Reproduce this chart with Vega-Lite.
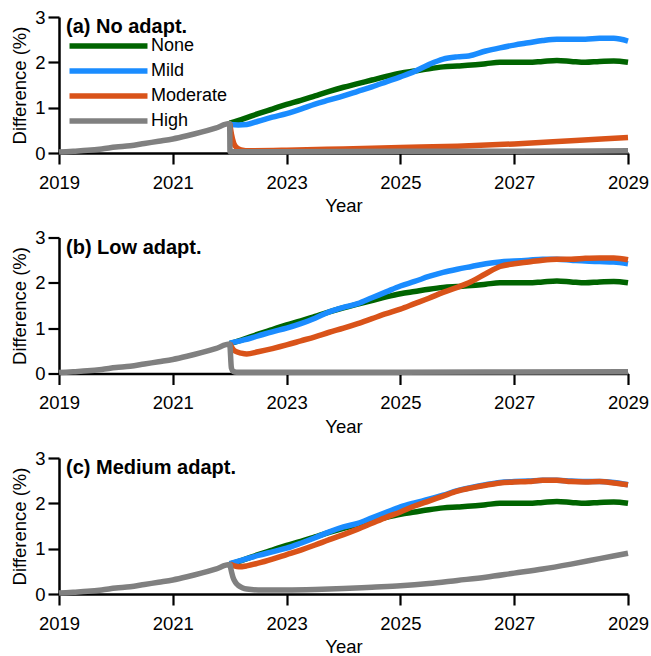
{
  "$schema": "https://vega.github.io/schema/vega-lite/v6.json",
  "background": "white",
  "padding": {"left": 10, "top": 8, "right": 1, "bottom": 0},
  "bounds": "flush",
  "spacing": 84.5,
  "resolve": {"scale": {"color": "independent"}},
  "config": {
    "view": {"stroke": null},
    "font": "Liberation Sans",
    "axis": {
      "grid": false,
      "domainColor": "black", "domainWidth": 2.5,
      "tickColor": "black", "tickWidth": 2.2, "tickSize": 11,
      "labelFont": "Liberation Sans", "labelFontSize": 18.5, "labelColor": "black",
      "titleFont": "Liberation Sans", "titleFontSize": 18.5, "titleFontWeight": "normal", "titleColor": "black"
    },
    "axisX": {"labelPadding": 9, "titlePadding": 5, "labelFlush": false},
    "axisY": {"labelPadding": 3, "titlePadding": 5},
    "title": {"font": "Liberation Sans", "fontSize": 20, "fontWeight": "bold", "color": "black", "anchor": "start", "frame": "group", "offset": -29, "dx": 7}
  },
  "data": {"values": [
    {"p":"a","s":"None","x":2022,"y":0.66},{"p":"a","s":"None","x":2022.25,"y":0.76},{"p":"a","s":"None","x":2022.5,"y":0.87},{"p":"a","s":"None","x":2022.75,"y":0.97},{"p":"a","s":"None","x":2023,"y":1.07},{"p":"a","s":"None","x":2023.25,"y":1.16},{"p":"a","s":"None","x":2023.5,"y":1.26},{"p":"a","s":"None","x":2023.75,"y":1.36},{"p":"a","s":"None","x":2024,"y":1.45},{"p":"a","s":"None","x":2024.25,"y":1.53},{"p":"a","s":"None","x":2024.5,"y":1.61},{"p":"a","s":"None","x":2024.75,"y":1.69},{"p":"a","s":"None","x":2025,"y":1.76},{"p":"a","s":"None","x":2025.25,"y":1.81},{"p":"a","s":"None","x":2025.5,"y":1.86},{"p":"a","s":"None","x":2025.75,"y":1.9},{"p":"a","s":"None","x":2026,"y":1.92},{"p":"a","s":"None","x":2026.25,"y":1.94},{"p":"a","s":"None","x":2026.5,"y":1.97},{"p":"a","s":"None","x":2026.75,"y":2.0},{"p":"a","s":"None","x":2027,"y":2.0},{"p":"a","s":"None","x":2027.25,"y":2.0},{"p":"a","s":"None","x":2027.5,"y":2.02},{"p":"a","s":"None","x":2027.75,"y":2.04},{"p":"a","s":"None","x":2028,"y":2.02},{"p":"a","s":"None","x":2028.25,"y":2.0},{"p":"a","s":"None","x":2028.5,"y":2.02},{"p":"a","s":"None","x":2028.75,"y":2.03},{"p":"a","s":"None","x":2029,"y":2.0},
    {"p":"a","s":"Mild","x":2022,"y":0.63},{"p":"a","s":"Mild","x":2022.15,"y":0.62},{"p":"a","s":"Mild","x":2022.3,"y":0.63},{"p":"a","s":"Mild","x":2022.5,"y":0.7},{"p":"a","s":"Mild","x":2022.75,"y":0.79},{"p":"a","s":"Mild","x":2023,"y":0.87},{"p":"a","s":"Mild","x":2023.25,"y":0.97},{"p":"a","s":"Mild","x":2023.5,"y":1.08},{"p":"a","s":"Mild","x":2023.75,"y":1.17},{"p":"a","s":"Mild","x":2024,"y":1.26},{"p":"a","s":"Mild","x":2024.25,"y":1.36},{"p":"a","s":"Mild","x":2024.5,"y":1.46},{"p":"a","s":"Mild","x":2024.75,"y":1.57},{"p":"a","s":"Mild","x":2025,"y":1.68},{"p":"a","s":"Mild","x":2025.25,"y":1.8},{"p":"a","s":"Mild","x":2025.5,"y":1.95},{"p":"a","s":"Mild","x":2025.75,"y":2.07},{"p":"a","s":"Mild","x":2026,"y":2.12},{"p":"a","s":"Mild","x":2026.2,"y":2.14},{"p":"a","s":"Mild","x":2026.5,"y":2.25},{"p":"a","s":"Mild","x":2026.75,"y":2.32},{"p":"a","s":"Mild","x":2027,"y":2.38},{"p":"a","s":"Mild","x":2027.25,"y":2.43},{"p":"a","s":"Mild","x":2027.5,"y":2.48},{"p":"a","s":"Mild","x":2027.75,"y":2.51},{"p":"a","s":"Mild","x":2028,"y":2.51},{"p":"a","s":"Mild","x":2028.25,"y":2.51},{"p":"a","s":"Mild","x":2028.5,"y":2.53},{"p":"a","s":"Mild","x":2028.75,"y":2.53},{"p":"a","s":"Mild","x":2029,"y":2.47},
    {"p":"a","s":"Moderate","x":2022,"y":0.65},{"p":"a","s":"Moderate","x":2022.03,"y":0.42},{"p":"a","s":"Moderate","x":2022.07,"y":0.22},{"p":"a","s":"Moderate","x":2022.12,"y":0.12},{"p":"a","s":"Moderate","x":2022.2,"y":0.07},{"p":"a","s":"Moderate","x":2022.35,"y":0.05},{"p":"a","s":"Moderate","x":2023,"y":0.06},{"p":"a","s":"Moderate","x":2024,"y":0.09},{"p":"a","s":"Moderate","x":2025,"y":0.12},{"p":"a","s":"Moderate","x":2026,"y":0.15},{"p":"a","s":"Moderate","x":2027,"y":0.2},{"p":"a","s":"Moderate","x":2028,"y":0.27},{"p":"a","s":"Moderate","x":2029,"y":0.34},
    {"p":"a","s":"High","x":2019,"y":0.02},{"p":"a","s":"High","x":2019.25,"y":0.04},{"p":"a","s":"High","x":2019.5,"y":0.06},{"p":"a","s":"High","x":2019.75,"y":0.09},{"p":"a","s":"High","x":2020,"y":0.13},{"p":"a","s":"High","x":2020.25,"y":0.16},{"p":"a","s":"High","x":2020.5,"y":0.21},{"p":"a","s":"High","x":2020.75,"y":0.26},{"p":"a","s":"High","x":2021,"y":0.31},{"p":"a","s":"High","x":2021.25,"y":0.38},{"p":"a","s":"High","x":2021.5,"y":0.46},{"p":"a","s":"High","x":2021.75,"y":0.55},{"p":"a","s":"High","x":2022,"y":0.65},{"p":"a","s":"High","x":2022.005,"y":0.03},{"p":"a","s":"High","x":2023,"y":0.03},{"p":"a","s":"High","x":2025,"y":0.04},{"p":"a","s":"High","x":2027,"y":0.04},{"p":"a","s":"High","x":2029,"y":0.05},

    {"p":"b","s":"None","x":2022,"y":0.66},{"p":"b","s":"None","x":2022.25,"y":0.76},{"p":"b","s":"None","x":2022.5,"y":0.87},{"p":"b","s":"None","x":2022.75,"y":0.97},{"p":"b","s":"None","x":2023,"y":1.07},{"p":"b","s":"None","x":2023.25,"y":1.16},{"p":"b","s":"None","x":2023.5,"y":1.26},{"p":"b","s":"None","x":2023.75,"y":1.36},{"p":"b","s":"None","x":2024,"y":1.45},{"p":"b","s":"None","x":2024.25,"y":1.53},{"p":"b","s":"None","x":2024.5,"y":1.61},{"p":"b","s":"None","x":2024.75,"y":1.69},{"p":"b","s":"None","x":2025,"y":1.76},{"p":"b","s":"None","x":2025.25,"y":1.81},{"p":"b","s":"None","x":2025.5,"y":1.86},{"p":"b","s":"None","x":2025.75,"y":1.9},{"p":"b","s":"None","x":2026,"y":1.92},{"p":"b","s":"None","x":2026.25,"y":1.94},{"p":"b","s":"None","x":2026.5,"y":1.97},{"p":"b","s":"None","x":2026.75,"y":2.0},{"p":"b","s":"None","x":2027,"y":2.0},{"p":"b","s":"None","x":2027.25,"y":2.0},{"p":"b","s":"None","x":2027.5,"y":2.02},{"p":"b","s":"None","x":2027.75,"y":2.04},{"p":"b","s":"None","x":2028,"y":2.02},{"p":"b","s":"None","x":2028.25,"y":2.0},{"p":"b","s":"None","x":2028.5,"y":2.02},{"p":"b","s":"None","x":2028.75,"y":2.03},{"p":"b","s":"None","x":2029,"y":2.0},
    {"p":"b","s":"Mild","x":2022,"y":0.67},{"p":"b","s":"Mild","x":2022.25,"y":0.74},{"p":"b","s":"Mild","x":2022.5,"y":0.83},{"p":"b","s":"Mild","x":2022.75,"y":0.92},{"p":"b","s":"Mild","x":2023,"y":1.0},{"p":"b","s":"Mild","x":2023.25,"y":1.1},{"p":"b","s":"Mild","x":2023.5,"y":1.22},{"p":"b","s":"Mild","x":2023.75,"y":1.36},{"p":"b","s":"Mild","x":2024,"y":1.46},{"p":"b","s":"Mild","x":2024.25,"y":1.54},{"p":"b","s":"Mild","x":2024.5,"y":1.67},{"p":"b","s":"Mild","x":2024.75,"y":1.8},{"p":"b","s":"Mild","x":2025,"y":1.93},{"p":"b","s":"Mild","x":2025.25,"y":2.03},{"p":"b","s":"Mild","x":2025.5,"y":2.14},{"p":"b","s":"Mild","x":2025.75,"y":2.23},{"p":"b","s":"Mild","x":2026,"y":2.3},{"p":"b","s":"Mild","x":2026.25,"y":2.36},{"p":"b","s":"Mild","x":2026.5,"y":2.42},{"p":"b","s":"Mild","x":2026.75,"y":2.46},{"p":"b","s":"Mild","x":2027,"y":2.48},{"p":"b","s":"Mild","x":2027.25,"y":2.5},{"p":"b","s":"Mild","x":2027.5,"y":2.52},{"p":"b","s":"Mild","x":2027.75,"y":2.52},{"p":"b","s":"Mild","x":2028,"y":2.5},{"p":"b","s":"Mild","x":2028.25,"y":2.48},{"p":"b","s":"Mild","x":2028.5,"y":2.47},{"p":"b","s":"Mild","x":2028.75,"y":2.46},{"p":"b","s":"Mild","x":2029,"y":2.42},
    {"p":"b","s":"Moderate","x":2022,"y":0.66},{"p":"b","s":"Moderate","x":2022.05,"y":0.55},{"p":"b","s":"Moderate","x":2022.1,"y":0.49},{"p":"b","s":"Moderate","x":2022.2,"y":0.45},{"p":"b","s":"Moderate","x":2022.3,"y":0.43},{"p":"b","s":"Moderate","x":2022.5,"y":0.48},{"p":"b","s":"Moderate","x":2022.75,"y":0.55},{"p":"b","s":"Moderate","x":2023,"y":0.63},{"p":"b","s":"Moderate","x":2023.25,"y":0.72},{"p":"b","s":"Moderate","x":2023.5,"y":0.81},{"p":"b","s":"Moderate","x":2023.75,"y":0.91},{"p":"b","s":"Moderate","x":2024,"y":1.0},{"p":"b","s":"Moderate","x":2024.25,"y":1.1},{"p":"b","s":"Moderate","x":2024.5,"y":1.21},{"p":"b","s":"Moderate","x":2024.75,"y":1.32},{"p":"b","s":"Moderate","x":2025,"y":1.42},{"p":"b","s":"Moderate","x":2025.25,"y":1.54},{"p":"b","s":"Moderate","x":2025.5,"y":1.66},{"p":"b","s":"Moderate","x":2025.75,"y":1.79},{"p":"b","s":"Moderate","x":2026,"y":1.9},{"p":"b","s":"Moderate","x":2026.25,"y":2.03},{"p":"b","s":"Moderate","x":2026.5,"y":2.2},{"p":"b","s":"Moderate","x":2026.75,"y":2.36},{"p":"b","s":"Moderate","x":2027,"y":2.42},{"p":"b","s":"Moderate","x":2027.25,"y":2.46},{"p":"b","s":"Moderate","x":2027.5,"y":2.5},{"p":"b","s":"Moderate","x":2027.75,"y":2.52},{"p":"b","s":"Moderate","x":2028,"y":2.52},{"p":"b","s":"Moderate","x":2028.25,"y":2.54},{"p":"b","s":"Moderate","x":2028.5,"y":2.55},{"p":"b","s":"Moderate","x":2028.75,"y":2.55},{"p":"b","s":"Moderate","x":2029,"y":2.51},
    {"p":"b","s":"High","x":2019,"y":0.02},{"p":"b","s":"High","x":2019.25,"y":0.04},{"p":"b","s":"High","x":2019.5,"y":0.06},{"p":"b","s":"High","x":2019.75,"y":0.09},{"p":"b","s":"High","x":2020,"y":0.13},{"p":"b","s":"High","x":2020.25,"y":0.16},{"p":"b","s":"High","x":2020.5,"y":0.21},{"p":"b","s":"High","x":2020.75,"y":0.26},{"p":"b","s":"High","x":2021,"y":0.31},{"p":"b","s":"High","x":2021.25,"y":0.38},{"p":"b","s":"High","x":2021.5,"y":0.46},{"p":"b","s":"High","x":2021.75,"y":0.55},{"p":"b","s":"High","x":2022,"y":0.65},{"p":"b","s":"High","x":2022.03,"y":0.12},{"p":"b","s":"High","x":2022.06,"y":0.05},{"p":"b","s":"High","x":2022.12,"y":0.03},{"p":"b","s":"High","x":2025,"y":0.03},{"p":"b","s":"High","x":2029,"y":0.04},

    {"p":"c","s":"None","x":2022,"y":0.66},{"p":"c","s":"None","x":2022.25,"y":0.76},{"p":"c","s":"None","x":2022.5,"y":0.87},{"p":"c","s":"None","x":2022.75,"y":0.97},{"p":"c","s":"None","x":2023,"y":1.07},{"p":"c","s":"None","x":2023.25,"y":1.16},{"p":"c","s":"None","x":2023.5,"y":1.26},{"p":"c","s":"None","x":2023.75,"y":1.36},{"p":"c","s":"None","x":2024,"y":1.45},{"p":"c","s":"None","x":2024.25,"y":1.53},{"p":"c","s":"None","x":2024.5,"y":1.61},{"p":"c","s":"None","x":2024.75,"y":1.69},{"p":"c","s":"None","x":2025,"y":1.76},{"p":"c","s":"None","x":2025.25,"y":1.81},{"p":"c","s":"None","x":2025.5,"y":1.86},{"p":"c","s":"None","x":2025.75,"y":1.9},{"p":"c","s":"None","x":2026,"y":1.92},{"p":"c","s":"None","x":2026.25,"y":1.94},{"p":"c","s":"None","x":2026.5,"y":1.97},{"p":"c","s":"None","x":2026.75,"y":2.0},{"p":"c","s":"None","x":2027,"y":2.0},{"p":"c","s":"None","x":2027.25,"y":2.0},{"p":"c","s":"None","x":2027.5,"y":2.02},{"p":"c","s":"None","x":2027.75,"y":2.04},{"p":"c","s":"None","x":2028,"y":2.02},{"p":"c","s":"None","x":2028.25,"y":2.0},{"p":"c","s":"None","x":2028.5,"y":2.02},{"p":"c","s":"None","x":2028.75,"y":2.03},{"p":"c","s":"None","x":2029,"y":2.0},
    {"p":"c","s":"Mild","x":2022,"y":0.67},{"p":"c","s":"Mild","x":2022.25,"y":0.76},{"p":"c","s":"Mild","x":2022.5,"y":0.85},{"p":"c","s":"Mild","x":2022.75,"y":0.93},{"p":"c","s":"Mild","x":2023,"y":1.01},{"p":"c","s":"Mild","x":2023.25,"y":1.12},{"p":"c","s":"Mild","x":2023.5,"y":1.24},{"p":"c","s":"Mild","x":2023.75,"y":1.37},{"p":"c","s":"Mild","x":2024,"y":1.48},{"p":"c","s":"Mild","x":2024.25,"y":1.56},{"p":"c","s":"Mild","x":2024.5,"y":1.68},{"p":"c","s":"Mild","x":2024.75,"y":1.8},{"p":"c","s":"Mild","x":2025,"y":1.92},{"p":"c","s":"Mild","x":2025.25,"y":2.01},{"p":"c","s":"Mild","x":2025.5,"y":2.09},{"p":"c","s":"Mild","x":2025.75,"y":2.18},{"p":"c","s":"Mild","x":2026,"y":2.28},{"p":"c","s":"Mild","x":2026.25,"y":2.35},{"p":"c","s":"Mild","x":2026.5,"y":2.41},{"p":"c","s":"Mild","x":2026.75,"y":2.46},{"p":"c","s":"Mild","x":2027,"y":2.48},{"p":"c","s":"Mild","x":2027.25,"y":2.49},{"p":"c","s":"Mild","x":2027.5,"y":2.51},{"p":"c","s":"Mild","x":2027.75,"y":2.51},{"p":"c","s":"Mild","x":2028,"y":2.49},{"p":"c","s":"Mild","x":2028.25,"y":2.48},{"p":"c","s":"Mild","x":2028.5,"y":2.48},{"p":"c","s":"Mild","x":2028.75,"y":2.46},{"p":"c","s":"Mild","x":2029,"y":2.41},
    {"p":"c","s":"Moderate","x":2022,"y":0.66},{"p":"c","s":"Moderate","x":2022.08,"y":0.62},{"p":"c","s":"Moderate","x":2022.16,"y":0.6},{"p":"c","s":"Moderate","x":2022.3,"y":0.62},{"p":"c","s":"Moderate","x":2022.5,"y":0.68},{"p":"c","s":"Moderate","x":2022.75,"y":0.77},{"p":"c","s":"Moderate","x":2023,"y":0.87},{"p":"c","s":"Moderate","x":2023.25,"y":0.97},{"p":"c","s":"Moderate","x":2023.5,"y":1.08},{"p":"c","s":"Moderate","x":2023.75,"y":1.2},{"p":"c","s":"Moderate","x":2024,"y":1.31},{"p":"c","s":"Moderate","x":2024.25,"y":1.43},{"p":"c","s":"Moderate","x":2024.5,"y":1.56},{"p":"c","s":"Moderate","x":2024.75,"y":1.69},{"p":"c","s":"Moderate","x":2025,"y":1.81},{"p":"c","s":"Moderate","x":2025.25,"y":1.94},{"p":"c","s":"Moderate","x":2025.5,"y":2.05},{"p":"c","s":"Moderate","x":2025.75,"y":2.16},{"p":"c","s":"Moderate","x":2026,"y":2.27},{"p":"c","s":"Moderate","x":2026.25,"y":2.34},{"p":"c","s":"Moderate","x":2026.5,"y":2.4},{"p":"c","s":"Moderate","x":2026.75,"y":2.45},{"p":"c","s":"Moderate","x":2027,"y":2.47},{"p":"c","s":"Moderate","x":2027.25,"y":2.48},{"p":"c","s":"Moderate","x":2027.5,"y":2.51},{"p":"c","s":"Moderate","x":2027.75,"y":2.51},{"p":"c","s":"Moderate","x":2028,"y":2.48},{"p":"c","s":"Moderate","x":2028.25,"y":2.47},{"p":"c","s":"Moderate","x":2028.5,"y":2.48},{"p":"c","s":"Moderate","x":2028.75,"y":2.45},{"p":"c","s":"Moderate","x":2029,"y":2.41},
    {"p":"c","s":"High","x":2019,"y":0.02},{"p":"c","s":"High","x":2019.25,"y":0.04},{"p":"c","s":"High","x":2019.5,"y":0.06},{"p":"c","s":"High","x":2019.75,"y":0.09},{"p":"c","s":"High","x":2020,"y":0.13},{"p":"c","s":"High","x":2020.25,"y":0.16},{"p":"c","s":"High","x":2020.5,"y":0.21},{"p":"c","s":"High","x":2020.75,"y":0.26},{"p":"c","s":"High","x":2021,"y":0.31},{"p":"c","s":"High","x":2021.25,"y":0.38},{"p":"c","s":"High","x":2021.5,"y":0.46},{"p":"c","s":"High","x":2021.75,"y":0.55},{"p":"c","s":"High","x":2022,"y":0.65},{"p":"c","s":"High","x":2022.03,"y":0.5},{"p":"c","s":"High","x":2022.06,"y":0.36},{"p":"c","s":"High","x":2022.1,"y":0.26},{"p":"c","s":"High","x":2022.15,"y":0.19},{"p":"c","s":"High","x":2022.22,"y":0.14},{"p":"c","s":"High","x":2022.3,"y":0.11},{"p":"c","s":"High","x":2022.5,"y":0.09},{"p":"c","s":"High","x":2023,"y":0.09},{"p":"c","s":"High","x":2023.5,"y":0.1},{"p":"c","s":"High","x":2024,"y":0.12},{"p":"c","s":"High","x":2024.5,"y":0.15},{"p":"c","s":"High","x":2025,"y":0.18},{"p":"c","s":"High","x":2025.5,"y":0.23},{"p":"c","s":"High","x":2026,"y":0.3},{"p":"c","s":"High","x":2026.5,"y":0.37},{"p":"c","s":"High","x":2027,"y":0.46},{"p":"c","s":"High","x":2027.5,"y":0.55},{"p":"c","s":"High","x":2028,"y":0.66},{"p":"c","s":"High","x":2028.5,"y":0.78},{"p":"c","s":"High","x":2029,"y":0.9}
  ]},
  "vconcat": [
    {
      "width": 569, "height": 136,
      "title": {"text": "(a) No adapt."},
      "transform": [{"filter": "datum.p === 'a'"}],
      "mark": {"type": "line", "strokeWidth": 5.5, "interpolate": "monotone", "strokeJoin": "round"},
      "encoding": {
        "x": {"field": "x", "type": "quantitative", "scale": {"domain": [2019, 2029], "nice": false, "zero": false}, "axis": {"values": [2019, 2021, 2023, 2025, 2027, 2029], "format": "d", "title": "Year"}},
        "y": {"field": "y", "type": "quantitative", "scale": {"domain": [0, 3], "nice": false}, "axis": {"values": [0, 1, 2, 3], "title": "Difference (%)"}},
        "color": {"field": "s", "type": "nominal", "scale": {"domain": ["None", "Mild", "Moderate", "High"], "range": ["#006400", "#1a8cff", "#d95319", "#808080"]},
          "legend": {"orient": "none", "legendX": 37, "legendY": 16.5, "title": null, "symbolType": "M-4,0H4", "symbolSize": 380, "symbolStrokeWidth": 5.5, "labelFontSize": 18, "labelFont": "Liberation Sans", "labelColor": "black", "labelOffset": 30, "rowPadding": 1}}
      }
    },
    {
      "width": 569, "height": 136,
      "title": {"text": "(b) Low adapt."},
      "transform": [{"filter": "datum.p === 'b'"}],
      "mark": {"type": "line", "strokeWidth": 5.5, "interpolate": "monotone", "strokeJoin": "round"},
      "encoding": {
        "x": {"field": "x", "type": "quantitative", "scale": {"domain": [2019, 2029], "nice": false, "zero": false}, "axis": {"values": [2019, 2021, 2023, 2025, 2027, 2029], "format": "d", "title": "Year"}},
        "y": {"field": "y", "type": "quantitative", "scale": {"domain": [0, 3], "nice": false}, "axis": {"values": [0, 1, 2, 3], "title": "Difference (%)"}},
        "color": {"field": "s", "type": "nominal", "scale": {"domain": ["None", "Mild", "Moderate", "High"], "range": ["#006400", "#1a8cff", "#d95319", "#808080"]}, "legend": null}
      }
    },
    {
      "width": 569, "height": 136,
      "title": {"text": "(c) Medium adapt."},
      "transform": [{"filter": "datum.p === 'c'"}],
      "mark": {"type": "line", "strokeWidth": 5.5, "interpolate": "monotone", "strokeJoin": "round"},
      "encoding": {
        "x": {"field": "x", "type": "quantitative", "scale": {"domain": [2019, 2029], "nice": false, "zero": false}, "axis": {"values": [2019, 2021, 2023, 2025, 2027, 2029], "format": "d", "title": "Year"}},
        "y": {"field": "y", "type": "quantitative", "scale": {"domain": [0, 3], "nice": false}, "axis": {"values": [0, 1, 2, 3], "title": "Difference (%)"}},
        "color": {"field": "s", "type": "nominal", "scale": {"domain": ["None", "Mild", "Moderate", "High"], "range": ["#006400", "#1a8cff", "#d95319", "#808080"]}, "legend": null}
      }
    }
  ]
}
